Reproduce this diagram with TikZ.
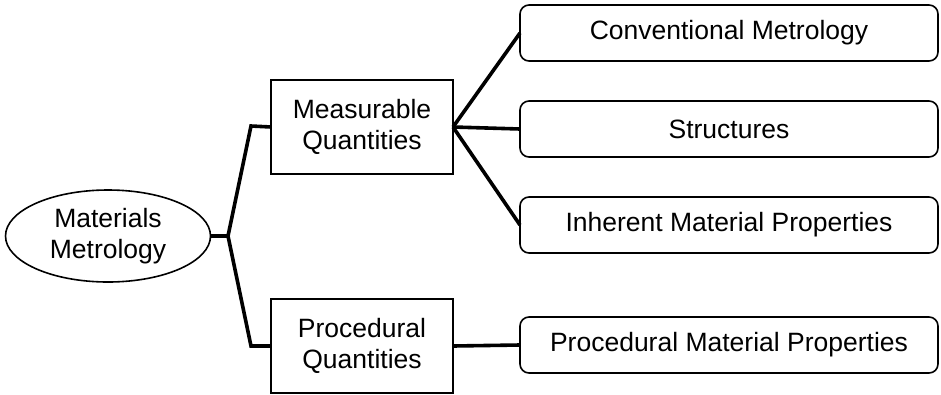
\documentclass[tikz,border=0pt]{standalone}
\usepackage{fontspec}
\setmainfont{Liberation Sans}
\usetikzlibrary{shapes.geometric}
\begin{document}
\begin{tikzpicture}[x=1pt,y=-1pt,
  txt/.style={font=\fontsize{26.5}{31}\selectfont, align=center, inner sep=0pt, outer sep=0pt},
  ellbox/.style={txt, ellipse, draw, line width=1.6pt, minimum width=205pt, minimum height=92pt},
  midbox/.style={txt, rectangle, draw, line width=1.6pt, minimum width=182pt, minimum height=94pt},
  leafbox/.style={txt, rectangle, rounded corners=9pt, draw, line width=1.6pt, minimum width=418pt, minimum height=56pt},
  conn/.style={line width=3.6pt, line join=miter}]
\useasboundingbox (0,0) rectangle (941,394);
\node[ellbox] (mm) at (108,236) {Materials\\Metrology};
\node[midbox] (mq) at (362,127) {Measurable\\Quantities};
\node[midbox] (pq) at (362,346) {Procedural\\Quantities};
\node[leafbox] (cm) at (729,33) {Conventional Metrology};
\node[leafbox] (st) at (729,129) {Structures};
\node[leafbox] (im) at (729,225) {Inherent Material Properties};
\node[leafbox] (pm) at (729,345) {Procedural Material Properties};
\coordinate (j) at (228,236);
\coordinate (ju) at (251,126);
\coordinate (jd) at (251,346);
\draw[conn] (mm.east) -- (j);
\draw[conn] (j) -- (ju) -- (mq.west);
\draw[conn] (j) -- (jd) -- (pq.west);
\draw[conn] (mq.east) -- (cm.west);
\draw[conn] (mq.east) -- (st.west);
\draw[conn] (mq.east) -- (im.west);
\draw[conn] (pq.east) -- (pm.west);
\end{tikzpicture}
\end{document}
